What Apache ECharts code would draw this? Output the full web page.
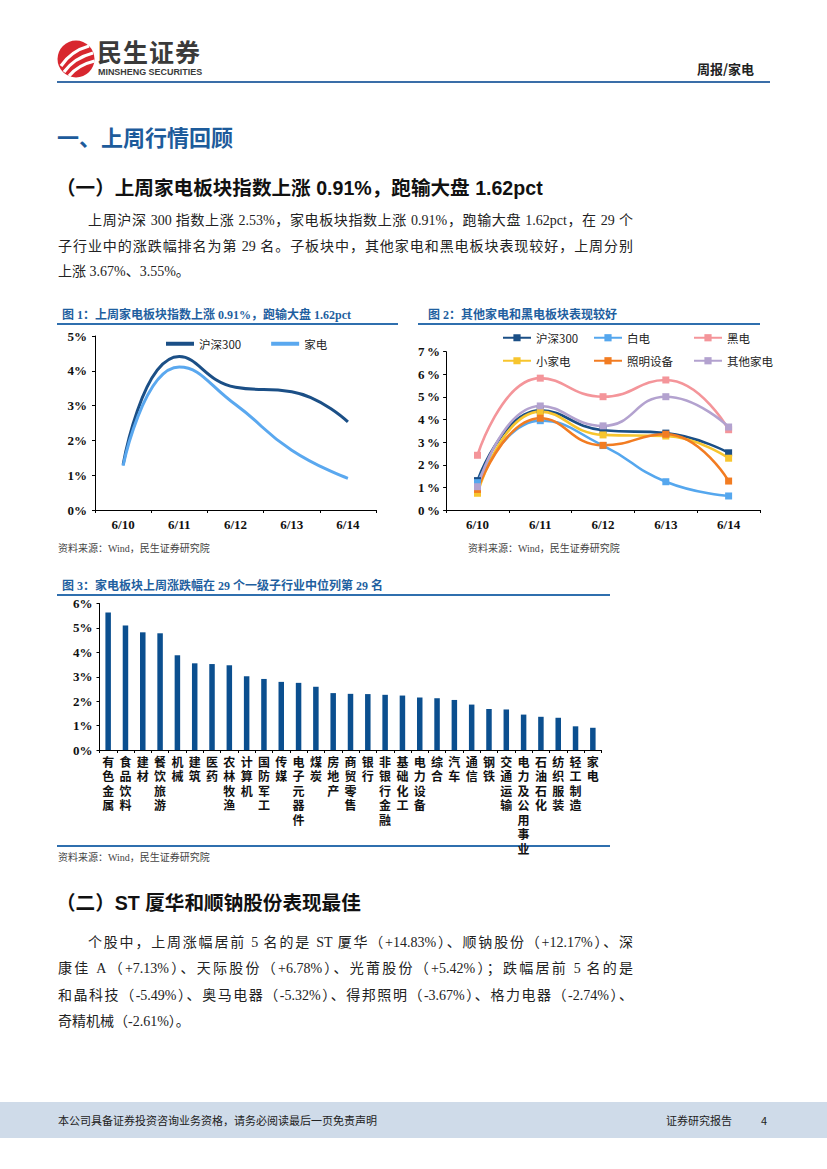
<!DOCTYPE html>
<html><head><meta charset="utf-8">
<script src="https://cdn.jsdelivr.net/npm/echarts/dist/echarts.min.js"></script>
<style>
html,body{margin:0;padding:0;background:#fff;}
body{width:827px;height:1169px;position:relative;overflow:hidden;font-family:"Liberation Serif","Noto Sans CJK SC",serif;color:#222;}
.a{position:absolute;white-space:nowrap;}
.p{position:absolute;font-size:14px;line-height:20px;color:#222;font-family:"Liberation Serif","Noto Sans CJK SC",serif;}
.j{text-align:justify;text-align-last:justify;}
.h1{font-family:"Liberation Sans","Noto Sans CJK SC",sans-serif;font-weight:bold;font-size:22px;line-height:30px;color:#1d5b9b;}
.h2{font-family:"Liberation Sans","Noto Sans CJK SC",sans-serif;font-weight:bold;font-size:19.6px;line-height:26px;color:#111;}
.ft{font-family:"Liberation Serif","Noto Sans CJK SC",serif;font-weight:bold;font-size:12px;line-height:16px;color:#1f5fa0;}
.ul{position:absolute;height:2px;background:#2f6fae;}
.src{font-size:10px;line-height:14px;color:#444;font-family:"Liberation Serif","Noto Sans CJK SC",serif;}
.chart{position:absolute;}
</style></head><body>

<!-- header -->
<svg class="a" style="left:56px;top:39px" width="40" height="40" viewBox="0 0 40 40">
  <circle cx="20" cy="20" r="18.5" fill="#d8272f"/>
  <path d="M5 27 Q15 12 33 7" stroke="#fff" stroke-width="3.2" fill="none"/>
  <path d="M8 33 Q18 19 37 14" stroke="#fff" stroke-width="3.2" fill="none"/>
  <path d="M13 37 Q22 26 38.5 22" stroke="#fff" stroke-width="3.2" fill="none"/>
</svg>
<div class="a" style="left:97px;top:39px;font-family:'Noto Sans CJK SC',sans-serif;font-weight:bold;font-size:25px;line-height:25px;color:#3a3a3a;letter-spacing:1px;">民生证券</div>
<div class="a" style="left:98px;top:67px;font-family:'Liberation Sans',sans-serif;font-weight:bold;font-size:9.5px;line-height:10px;color:#3a3a3a;transform:scaleX(0.94);transform-origin:left;">MINSHENG SECURITIES</div>
<div class="a" style="left:697px;top:60px;font-family:'Noto Sans CJK SC',sans-serif;font-weight:bold;font-size:13px;line-height:17px;color:#222;">周报/家电</div>
<div class="a" style="left:57px;top:81px;width:713px;height:2px;background:#3a6ea8;"></div>

<!-- headings & paragraph 1 -->
<div class="a h1" style="left:57px;top:124px;">一、上周行情回顾</div>
<div class="a h2" style="left:56px;top:175px;">（一）上周家电板块指数上涨 0.91%，跑输大盘 1.62pct</div>
<div class="p j" style="left:88px;top:211px;width:545px;">上周沪深 300 指数上涨 2.53%，家电板块指数上涨 0.91%，跑输大盘 1.62pct，在 29 个</div>
<div class="p j" style="left:58px;top:237px;width:575px;">子行业中的涨跌幅排名为第 29 名。子板块中，其他家电和黑电板块表现较好，上周分别</div>
<div class="p" style="left:58px;top:262px;white-space:nowrap;">上涨 3.67%、3.55%。</div>

<!-- figure titles -->
<div class="a ft" style="left:62px;top:307px;">图 1：上周家电板块指数上涨 0.91%，跑输大盘 1.62pct</div>
<div class="ul" style="left:57px;top:323px;width:341px;"></div>
<div class="a ft" style="left:428px;top:307px;">图 2：其他家电和黑电板块表现较好</div>
<div class="ul" style="left:418px;top:323px;width:342px;"></div>

<div id="c1" class="chart" style="left:55px;top:326px;width:350px;height:215px;"></div>
<div id="c2" class="chart" style="left:415px;top:326px;width:390px;height:215px;"></div>

<div class="a src" style="left:58px;top:542px;">资料来源：Wind，民生证券研究院</div>
<div class="a src" style="left:468px;top:542px;">资料来源：Wind，民生证券研究院</div>

<div class="a ft" style="left:62px;top:578px;">图 3：家电板块上周涨跌幅在 29 个一级子行业中位列第 29 名</div>
<div class="ul" style="left:57px;top:594px;width:553px;"></div>
<div class="ul" style="left:57px;top:845px;width:553px;height:1.5px;"></div>
<div id="c3" class="chart" style="left:55px;top:597px;width:560px;height:265px;"></div>
<div class="a src" style="left:58px;top:851px;">资料来源：Wind，民生证券研究院</div>

<!-- section 2 -->
<div class="a h2" style="left:56px;top:890px;">（二）ST 厦华和顺钠股份表现最佳</div>
<div class="p j" style="left:88px;top:933px;width:545px;">个股中，上周涨幅居前 5 名的是 ST 厦华（+14.83%）、顺钠股份（+12.17%）、深</div>
<div class="p j" style="left:58px;top:959px;width:575px;">康佳 A（+7.13%）、天际股份（+6.78%）、光莆股份（+5.42%）；跌幅居前 5 名的是</div>
<div class="p j" style="left:58px;top:986px;width:575px;">和晶科技（-5.49%）、奥马电器（-5.32%）、得邦照明（-3.67%）、格力电器（-2.74%）、</div>
<div class="p" style="left:58px;top:1012px;white-space:nowrap;">奇精机械（-2.61%）。</div>

<!-- footer -->
<div class="a" style="left:0;top:1102px;width:827px;height:36px;background:#cfdbe9;"></div>
<div class="a" style="left:58px;top:1112px;font-family:'Noto Sans CJK SC',sans-serif;font-size:11px;line-height:16px;color:#222;">本公司具备证券投资咨询业务资格，请务必阅读最后一页免责声明</div>
<div class="a" style="left:666px;top:1112px;font-family:'Noto Sans CJK SC',sans-serif;font-size:11px;line-height:16px;color:#222;">证券研究报告</div>
<div class="a" style="left:761px;top:1112px;font-family:'Noto Sans CJK SC',sans-serif;font-size:11px;line-height:16px;color:#222;">4</div>

<script>
// ---------- data ----------
const dates = ['6/10', '6/11', '6/12', '6/13', '6/14'];
const hs300 = [1.30, 4.41, 3.53, 3.40, 2.53];
const jiadian = [1.27, 4.11, 3.03, 1.72, 0.91];
const baidian = [1.21, 3.95, 2.85, 1.25, 0.62];
const heidian = [2.42, 5.83, 5.01, 5.75, 3.55];
const xiaojiadian = [0.74, 4.35, 3.32, 3.27, 2.29];
const zhaoming = [0.91, 4.06, 2.86, 3.35, 1.28];
const qitajiadian = [1.03, 4.60, 3.72, 5.01, 3.67];
const seriesNames2 = ['沪深300', '白电', '黑电', '小家电', '照明设备', '其他家电'];
const industries = ['有色金属','食品饮料','建材','餐饮旅游','机械','建筑','医药','农林牧渔','计算机','国防军工','传媒','电子元器件','煤炭','房地产','商贸零售','银行','非银行金融','基础化工','电力设备','综合','汽车','通信','钢铁','交通运输','电力及公用事业','石油石化','纺织服装','轻工制造','家电'];
const industryChange = [5.63, 5.10, 4.82, 4.78, 3.88, 3.55, 3.52, 3.47, 3.02, 2.91, 2.79, 2.75, 2.59, 2.33, 2.30, 2.29, 2.26, 2.23, 2.15, 2.12, 2.05, 1.86, 1.68, 1.66, 1.45, 1.36, 1.32, 0.97, 0.91];

// ---------- styles ----------
const axisLabelFont = {fontFamily: '"Liberation Serif", serif', fontWeight: 'bold', fontSize: 13, color: '#111'};
const legendFont = {fontFamily: '"Noto Sans CJK SC", sans-serif', fontSize: 11.5, color: '#222'};
const black = {lineStyle: {color: '#000', width: 1}};

// ---------- chart 1 ----------
const c1 = echarts.init(document.getElementById('c1'), null, {renderer: 'svg'});
c1.setOption({
  animation: false,
  grid: {left: 40, top: 10, width: 281, height: 174},
  legend: {left: 106, top: 7, icon: 'rect', itemWidth: 28, itemHeight: 4, itemGap: 30, textStyle: legendFont, data: ['沪深300', '家电']},
  xAxis: {type: 'category', data: dates, boundaryGap: true,
    axisLine: black, axisTick: {show: true, length: 3, lineStyle: {color: '#000'}},
    axisLabel: Object.assign({margin: 8, fontSize: 12}, axisLabelFont)},
  yAxis: {type: 'value', min: 0, max: 5, interval: 1, splitLine: {show: false},
    axisLine: {show: true, lineStyle: {color: '#000', width: 1}}, axisTick: {show: true, length: 3, lineStyle: {color: '#000'}},
    axisLabel: Object.assign({margin: 8, formatter: v => v + '%'}, axisLabelFont)},
  series: [
    {name: '沪深300', type: 'line', data: hs300, smooth: 0.5, symbol: 'none', lineStyle: {width: 3, color: '#1b4f86'}, itemStyle: {color: '#1b4f86'}},
    {name: '家电', type: 'line', data: jiadian, smooth: 0.5, symbol: 'none', lineStyle: {width: 3, color: '#5aa8ef'}, itemStyle: {color: '#5aa8ef'}}
  ]
});

// ---------- chart 2 ----------
const colors2 = ['#1b4f86', '#55a7ee', '#f4959a', '#f7c52e', '#f27c22', '#b3a2cf'];
const data2 = [hs300, baidian, heidian, xiaojiadian, zhaoming, qitajiadian];
const cols = [82, 173, 273], rows = [1, 24];
const c2 = echarts.init(document.getElementById('c2'), null, {renderer: 'svg'});
c2.setOption({
  animation: false,
  grid: {left: 31, top: 25.7, width: 314, height: 158.3},
  legend: seriesNames2.map((n, i) => ({data: [n], left: cols[i % 3], top: rows[Math.floor(i / 3)], itemWidth: 28, itemHeight: 9, textStyle: legendFont})),
  xAxis: {type: 'category', data: dates, boundaryGap: true,
    axisLine: black, axisTick: {show: true, length: 3, lineStyle: {color: '#000'}},
    axisLabel: Object.assign({margin: 8, fontSize: 12}, axisLabelFont)},
  yAxis: {type: 'value', min: 0, max: 7, interval: 1, splitLine: {show: false},
    axisLine: {show: true, lineStyle: {color: '#000', width: 1}}, axisTick: {show: true, length: 3, lineStyle: {color: '#000'}},
    axisLabel: Object.assign({margin: 6, formatter: v => v + '\u2009%'}, axisLabelFont)},
  series: seriesNames2.map((n, i) => ({
    name: n, type: 'line', data: data2[i], smooth: 0.5, symbol: 'rect', symbolSize: 7,
    lineStyle: {width: 2.6, color: colors2[i]}, itemStyle: {color: colors2[i]}
  }))
});

// ---------- chart 3 ----------
const c3 = echarts.init(document.getElementById('c3'), null, {renderer: 'svg'});
c3.setOption({
  animation: false,
  grid: {left: 44.5, top: 5, width: 502, height: 148},
  xAxis: {type: 'category', data: industries, boundaryGap: true,
    axisLine: black, axisTick: {show: true, length: 3, lineStyle: {color: '#000'}},
    axisLabel: {interval: 0, margin: 4, fontFamily: '"Noto Sans CJK SC", sans-serif', fontWeight: 'bold', fontSize: 12, lineHeight: 14.5, color: '#111', verticalAlign: 'top',
      formatter: s => s.split('').join('\n')}},
  yAxis: {type: 'value', min: 0, max: 6, interval: 1, splitLine: {show: false},
    axisLine: {show: true, lineStyle: {color: '#000', width: 1}}, axisTick: {show: true, length: 3, lineStyle: {color: '#000'}},
    axisLabel: Object.assign({margin: 7, formatter: v => v + '%'}, axisLabelFont)},
  series: [{type: 'bar', data: industryChange, barWidth: 5.5, itemStyle: {color: '#0b4f8f'}}]
});
</script>
</body></html>
